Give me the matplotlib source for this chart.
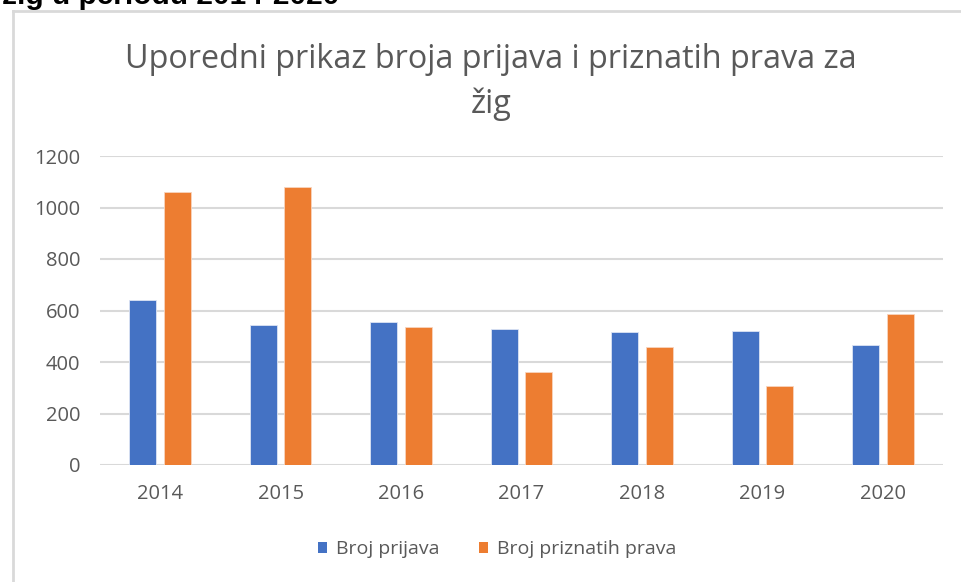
import matplotlib
matplotlib.use("Agg")
import matplotlib.pyplot as plt
import numpy as np
from matplotlib.patches import Patch
from matplotlib.lines import Line2D

years = ["2014", "2015", "2016", "2017", "2018", "2019", "2020"]
broj_prijava = [641, 542, 557, 527, 516, 522, 466]
broj_priznatih = [1059, 1078, 536, 362, 457, 307, 586]
yticks = [0, 200, 400, 600, 800, 1000, 1200]

title_lines = ["Uporedni prikaz broja prijava i priznatih prava za", "žig"]
header = "žig u periodu 2014-2020"
series_names = ["Broj prijava", "Broj priznatih prava"]

W, H = 961, 582
BLUE = "#4472C4"
ORANGE = "#ED7D31"
GRID = "#D9D9D9"
TXT = "#595959"
FONT = "Open Sans"

fig = plt.figure(figsize=(W / 100, H / 100), dpi=100)
fig.patch.set_facecolor("white")

# outer chart frame (left and top edges visible)
fig.add_artist(Line2D([12.5 / W, 12.5 / W], [0, 1 - 11 / H], color=GRID, lw=2,
                      transform=fig.transFigure))
fig.add_artist(Line2D([12.5 / W, 1], [1 - 11 / H, 1 - 11 / H], color=GRID, lw=2,
                      transform=fig.transFigure))

# cropped header text from the document
fig.text(0.002, 1 - 4 / H, header, fontsize=21.5, fontweight="bold", color="black",
         family="Liberation Sans", ha="left", va="baseline")

ax = fig.add_axes([100 / W, 1 - 465 / H, (943 - 100) / W, (465 - 156) / H])
x = np.arange(len(years))
off = 0.1436
bw = 0.224
ax.bar(x - off, broj_prijava, bw, color=BLUE, edgecolor="#DCE4F4", linewidth=0.6, zorder=3)
ax.bar(x + off, broj_priznatih, bw, color=ORANGE, edgecolor="#F8D4BE", linewidth=0.6, zorder=3)

ax.set_xlim(-0.5, len(years) - 0.5)
ax.set_ylim(0, 1200)
ax.set_yticks(yticks)
ax.set_yticklabels([str(v) for v in yticks])
ax.set_xticks(x)
ax.set_xticklabels(years)
ax.yaxis.grid(True, color=GRID, linewidth=1.5, zorder=0)
ax.set_axisbelow(True)
for s in ax.spines.values():
    s.set_visible(False)
ax.tick_params(axis="both", length=0, colors=TXT, labelsize=14.5)
ax.tick_params(axis="y", pad=14)
ax.tick_params(axis="x", pad=14)
for lab in ax.get_xticklabels() + ax.get_yticklabels():
    lab.set_family(FONT)

fig.text(491 / W, 1 - 68 / H, title_lines[0], ha="center", va="baseline", fontsize=23.3,
         color=TXT, family=FONT)
fig.text(491 / W, 1 - 113 / H, title_lines[1], ha="center", va="baseline", fontsize=23.3,
         color=TXT, family=FONT)

handles = [Patch(facecolor=BLUE, edgecolor="none"), Patch(facecolor=ORANGE, edgecolor="none")]
fig.legend(handles, series_names, loc="center", bbox_to_anchor=(497 / W, 1 - 549 / H),
           ncol=2, frameon=False, prop={"family": FONT, "size": 14},
           labelcolor=TXT, handlelength=0.5, handleheight=0.5, handletextpad=0.45,
           columnspacing=2.0)

fig.savefig("out.png", dpi=100)
